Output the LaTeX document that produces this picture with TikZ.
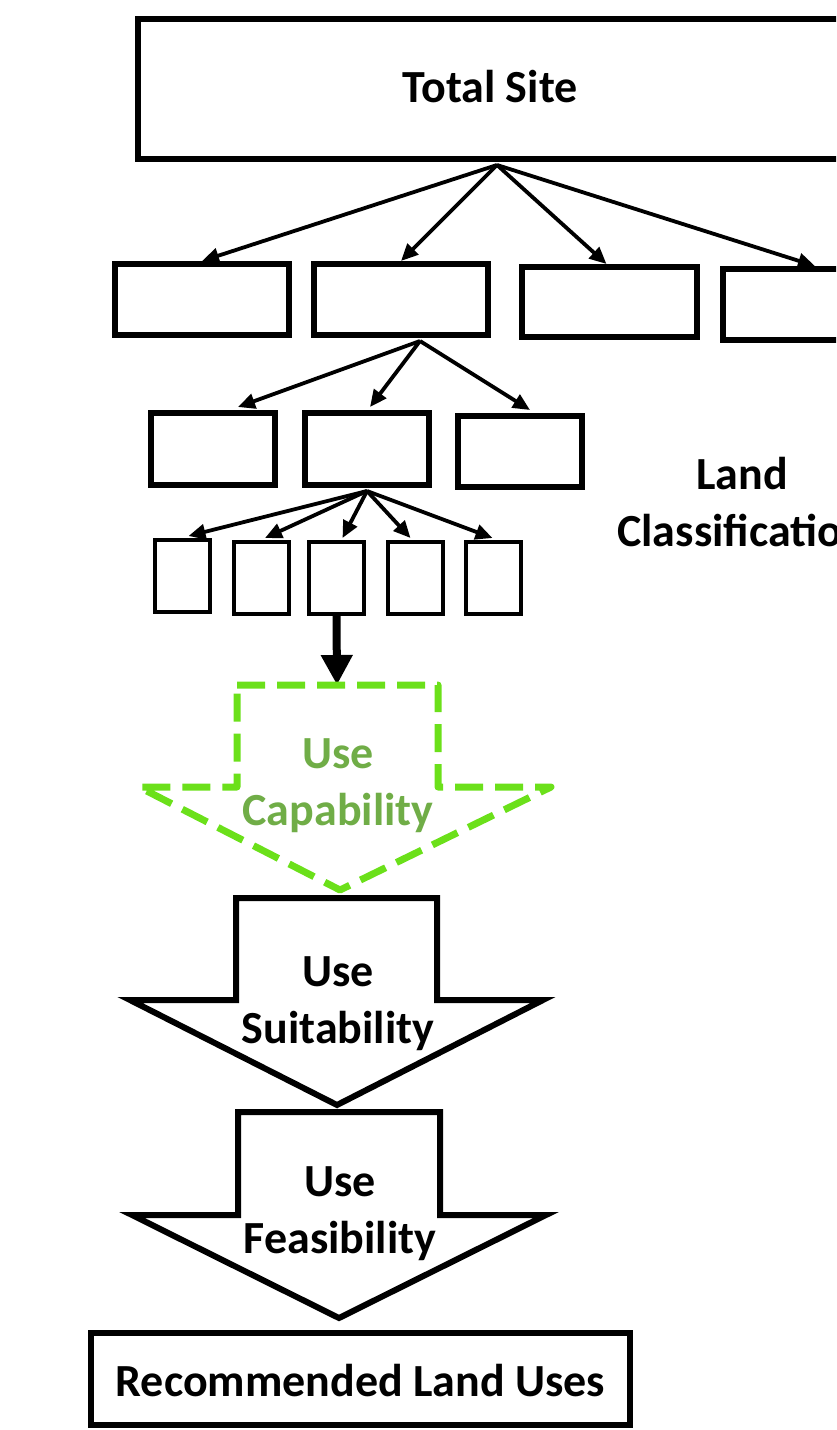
\documentclass[tikz,border=0pt]{standalone}
\usepackage{fontspec}
\setmainfont{Carlito}
\usetikzlibrary{arrows.meta,calc}
\definecolor{dashgreen}{HTML}{6BE01A}
\definecolor{txtgreen}{HTML}{70AD47}
\begin{document}
\begin{tikzpicture}[x=1pt,y=-1pt,
  box/.style={draw,line width=6pt,inner sep=0pt,rectangle},
  smallbox/.style={draw,line width=4pt,inner sep=0pt,rectangle,minimum width=55pt,minimum height=72pt},
  conn/.style={line width=3.8pt,-{Triangle[length=17pt,width=15pt]}},
  lbl/.style={font=\fontsize{46}{57}\selectfont\bfseries,align=center,inner sep=0pt},
  bigarrow/.style={line width=6pt,line join=miter}
]
\useasboundingbox (0,0) rectangle (836,1430);
\clip (0,0) rectangle (836,1430);
% top
\node[box,minimum width=704pt,minimum height=140pt] (TS) at (490,89) {};
\node[lbl] (TStext) at (490,87) {Total Site};
% row 1
\node[box,minimum width=174pt,minimum height=71pt] (A1) at (202,299.5) {};
\node[box,minimum width=174pt,minimum height=71pt] (A2) at (401,299.5) {};
\node[box,minimum width=175pt,minimum height=70pt] (A3) at (609.5,302) {};
\node[box,minimum width=174pt,minimum height=71pt] (A4) at (810,304.5) {};
% row 2
\node[box,minimum width=124pt,minimum height=72pt] (B1) at (213,449) {};
\node[box,minimum width=124pt,minimum height=72pt] (B2) at (367,449) {};
\node[box,minimum width=124pt,minimum height=71pt] (B3) at (520,451.5) {};
% row 3
\node[smallbox] (C1) at (182.5,576) {};
\node[smallbox] (C2) at (261,578) {};
\node[smallbox] (C3) at (336.5,578) {};
\node[smallbox] (C4) at (415.5,578) {};
\node[smallbox] (C5) at (493.5,578) {};
% connectors row 0 -> 1
\coordinate (TSs) at ($(TS.south)+(7,3)$);
\draw[conn] (TSs) -- (A1.north);
\draw[conn] (TSs) -- (A2.north);
\draw[conn] (TSs) -- ($(A3.north)+(-3,0)$);
\draw[conn] (TSs) -- ($(A4.north)+(5,0)$);
% row 1 -> 2
\coordinate (A2s) at ($(A2.south)+(19,3)$);
\draw[conn] (A2s) -- ($(B1.north)+(25,-3)$);
\draw[conn] (A2s) -- ($(B2.north)+(3,-3)$);
\draw[conn] (A2s) -- ($(B3.north)+(10,-3)$);
% row 2 -> 3
\coordinate (B2s) at ($(B2.south)+(0,3)$);
\draw[conn] (B2s) -- ($(C1.north)+(6,-2)$);
\draw[conn] (B2s) -- ($(C2.north)+(4,-2)$);
\draw[conn] (B2s) -- ($(C3.north)+(6,-2)$);
\draw[conn] (B2s) -- ($(C4.north)+(-5,-2)$);
\draw[conn] (B2s) -- ($(C5.north)+(-1,-2)$);
% thick arrow into capability
\coordinate (capTop) at (337,685);
\draw[line width=8pt,-{Triangle[length=30pt,width=30pt]}] (C3.south) -- (capTop);
% capability arrow
\draw[dashgreen,line width=7pt,line join=round,dash pattern=on 28pt off 12pt]
  (237,685) -- (438,685) -- (438,787) -- (551,787) -- (340,890) -- (139,787) -- (237,787) -- cycle;
\node[lbl,text=txtgreen] (cap) at (338,786) {Use\\Capability};
% suitability arrow
\draw[bigarrow] (236,898) -- (437,898) -- (437,1000) -- (543,1000) -- (337,1105) -- (130,1000) -- (236,1000) -- cycle;
\node[lbl] (suit) at (338,1004) {Use\\Suitability};
% feasibility arrow
\draw[bigarrow] (238,1112) -- (440,1112) -- (440,1215) -- (546,1215) -- (339,1318) -- (132,1215) -- (238,1215) -- cycle;
\node[lbl] (feas) at (340,1214) {Use\\Feasibility};
% result
\node[box,minimum width=539pt,minimum height=92pt] (rec) at (360.5,1379) {};
\node[lbl] (rectext) at (360.5,1381) {Recommended Land Uses};
% side label
\node[lbl] (lc) at (742,502) {Land\\Classification};
\end{tikzpicture}
\end{document}
